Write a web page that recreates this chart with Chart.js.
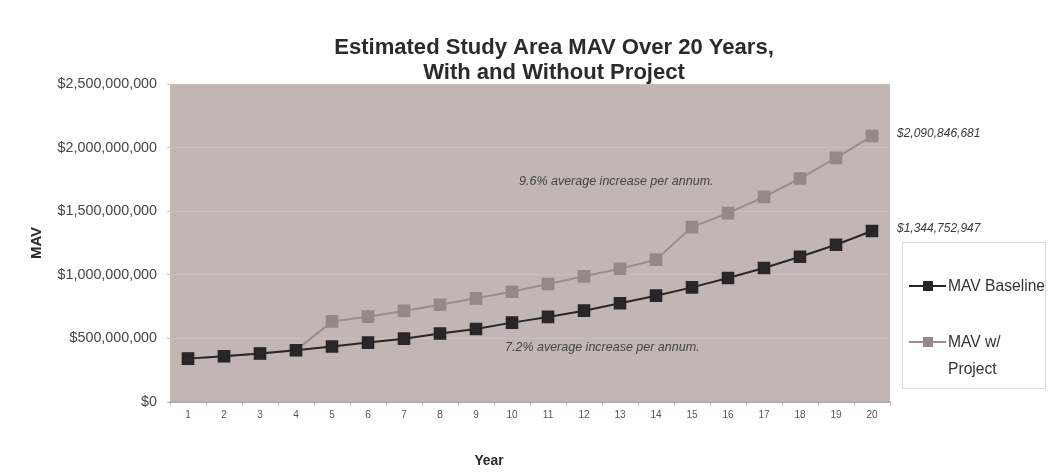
<!DOCTYPE html>
<html>
<head>
<meta charset="utf-8">
<script src="https://cdn.jsdelivr.net/npm/chart.js@4/dist/chart.umd.min.js"></script>
<style>
html,body{margin:0;padding:0;background:#fff;}
#wrap{width:1049px;height:473px;position:relative;}
</style>
</head>
<body>
<div id="wrap"><canvas id="c" width="1049" height="473"></canvas></div>
<script>
const titleLines = ["Estimated Study Area MAV Over 20 Years,", "With and Without Project"];
const years = ["1","2","3","4","5","6","7","8","9","10","11","12","13","14","15","16","17","18","19","20"];
const baseline = [341e6,360e6,381e6,407e6,436e6,467e6,498e6,538e6,574e6,624e6,669e6,718e6,776e6,836e6,901e6,975e6,1053e6,1142e6,1236e6,1344752947];
const withProject = [341e6,360e6,381e6,407e6,634e6,671e6,716e6,765e6,815e6,867e6,928e6,988e6,1048e6,1119e6,1375e6,1485e6,1613e6,1757e6,1919e6,2090846681];
const yTicks = [0,500e6,1000e6,1500e6,2000e6,2500e6];
const seriesLabels = ["MAV Baseline", "MAV w/ Project"];
const notes = ["9.6% average increase per annum.", "7.2% average increase per annum."];

const FONT = '"Liberation Sans", Arial, sans-serif';
const fmt = v => '$' + Math.round(v).toLocaleString('en-US');

function drawText(ctx, t, x, y, sx) {
  ctx.save();
  ctx.translate(x, y);
  ctx.scale(sx, 1);
  ctx.fillText(t, 0, 0);
  ctx.restore();
}

const bgPlugin = {
  id: 'bg',
  beforeDraw(chart) {
    const {ctx, chartArea: a} = chart;
    ctx.save();
    ctx.fillStyle = '#c1b6b4';
    ctx.fillRect(a.left, a.top, a.right - a.left, a.bottom - a.top);
    ctx.restore();
  }
};

const textPlugin = {
  id: 'texts',
  afterDraw(chart) {
    const {ctx} = chart;
    const y = chart.scales.y;
    ctx.save();
    // title
    ctx.fillStyle = '#2b2b2b';
    ctx.font = 'bold 22.5px ' + FONT;
    ctx.textAlign = 'center';
    ctx.textBaseline = 'middle';
    drawText(ctx, titleLines[0], 554, 48, 0.98);
    drawText(ctx, titleLines[1], 554, 73, 0.98);
    // axis titles
    ctx.font = 'bold 15px ' + FONT;
    drawText(ctx, 'Year', 489, 461, 0.92);
    ctx.save();
    ctx.translate(37, 243);
    ctx.rotate(-Math.PI / 2);
    ctx.fillText('MAV', 0, 0);
    ctx.restore();
    // end value labels
    ctx.font = 'italic 12px ' + FONT;
    ctx.textAlign = 'left';
    ctx.fillStyle = '#3a3a3a';
    const last = years.length - 1;
    ctx.fillText(fmt(withProject[last]), 897, y.getPixelForValue(withProject[last]) - 2);
    ctx.fillText(fmt(baseline[last]), 897, y.getPixelForValue(baseline[last]) - 2);
    // growth notes
    ctx.font = 'italic 12.5px ' + FONT;
    ctx.fillStyle = '#444';
    ctx.fillText(notes[0], 519, 182);
    ctx.fillText(notes[1], 505, 348);
    // legend
    ctx.fillStyle = '#ffffff';
    ctx.fillRect(902, 242, 144, 147);
    ctx.strokeStyle = '#dcdcdc';
    ctx.lineWidth = 1;
    ctx.strokeRect(902.5, 242.5, 143, 146);
    const ds = chart.data.datasets;
    const items = [{ds: ds[0], y: 286, lines: ['MAV Baseline']}, {ds: ds[1], y: 342, lines: ['MAV w/', 'Project']}];
    ctx.font = '17px ' + FONT;
    ctx.textBaseline = 'middle';
    items.forEach(it => {
      ctx.strokeStyle = it.ds.borderColor;
      ctx.lineWidth = 2;
      ctx.beginPath();
      ctx.moveTo(909, it.y);
      ctx.lineTo(946, it.y);
      ctx.stroke();
      ctx.fillStyle = it.ds.pointBackgroundColor;
      ctx.fillRect(923, it.y - 5, 10, 10);
      ctx.fillStyle = '#333';
      it.lines.forEach((t, i) => drawText(ctx, t, 948, it.y + i * 27, 0.92));
    });
    ctx.restore();
  }
};

new Chart(document.getElementById('c'), {
  type: 'line',
  data: {
    labels: years,
    datasets: [
      {
        label: seriesLabels[0],
        data: baseline,
        borderColor: '#2a2628',
        backgroundColor: '#2a2628',
        pointBackgroundColor: '#2a2628',
        pointBorderColor: '#2a2628',
        borderWidth: 2,
        pointStyle: 'rect',
        pointRadius: 7.5,
        tension: 0
      },
      {
        label: seriesLabels[1],
        data: withProject,
        borderColor: '#9a8e8c',
        backgroundColor: '#958886',
        pointBackgroundColor: '#958886',
        pointBorderColor: '#958886',
        borderWidth: 2,
        pointStyle: 'rect',
        pointRadius: 7.5,
        tension: 0
      }
    ]
  },
  options: {
    responsive: false,
    animation: false,
    events: [],
    layout: {padding: {left: 0, right: 159, top: 84, bottom: 0}},
    plugins: {legend: {display: false}, title: {display: false}, tooltip: {enabled: false}},
    scales: {
      x: {
        offset: true,
        grid: {display: true, offset: true, drawOnChartArea: false, drawTicks: true, tickLength: 4, color: '#cccccc'},
        border: {display: true, color: '#b5abaa', width: 2},
        ticks: {color: '#555', font: {family: FONT, size: 10}, padding: 3, maxRotation: 0, autoSkip: false},
        afterFit(s) { s.height = 71; }
      },
      y: {
        min: 0, max: 2500e6,
        afterBuildTicks(s) { s.ticks = yTicks.map(v => ({value: v})); },
        grid: {color: '#c9bfbd', lineWidth: 1, drawTicks: true, tickLength: 3},
        border: {display: false},
        ticks: {color: '#454545', font: {family: FONT, size: 14.3}, padding: 10, callback: v => fmt(v)},
        afterFit(s) { s.width = 170; }
      }
    }
  },
  plugins: [bgPlugin, textPlugin]
});
</script>
</body>
</html>
